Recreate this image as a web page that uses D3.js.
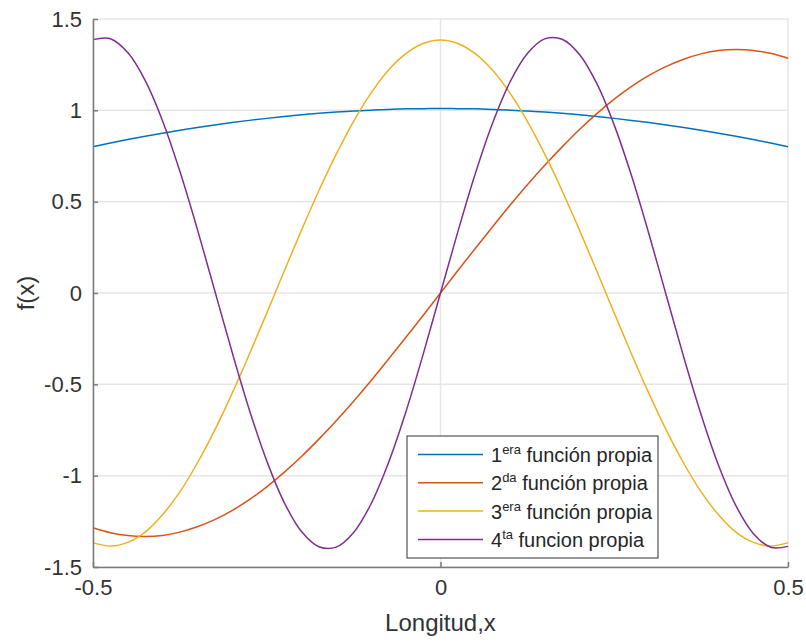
<!DOCTYPE html>
<html>
<head>
<meta charset="utf-8">
<script src="https://cdn.jsdelivr.net/npm/d3@7"></script>
<style>
  body { margin: 0; background: #fff; }
  text { font-family: "Liberation Sans", Arial, Helvetica, sans-serif; }
</style>
</head>
<body>
<div id="chart"></div>
<script>
// sample positions along the beam
var xVals = [-0.5, -0.475, -0.45, -0.425, -0.4, -0.375, -0.35, -0.325, -0.3, -0.275,
  -0.25, -0.225, -0.2, -0.175, -0.15, -0.125, -0.1, -0.075, -0.05, -0.025,
  0, 0.025, 0.05, 0.075, 0.1, 0.125, 0.15, 0.175, 0.2, 0.225,
  0.25, 0.275, 0.3, 0.325, 0.35, 0.375, 0.4, 0.425, 0.45, 0.475, 0.5];

// values
var f1 = [0.801, 0.821, 0.840, 0.858, 0.875, 0.891, 0.906, 0.920, 0.933, 0.945,
  0.956, 0.966, 0.976, 0.984, 0.991, 0.997, 1.001, 1.005, 1.008, 1.009,
  1.010, 1.009, 1.008, 1.005, 1.001, 0.997, 0.991, 0.984, 0.976, 0.966,
  0.956, 0.945, 0.933, 0.920, 0.906, 0.891, 0.875, 0.858, 0.840, 0.821, 0.801];
var f2 = [-1.285, -1.312, -1.328, -1.333, -1.327, -1.309, -1.280, -1.241, -1.191, -1.131,
  -1.061, -0.982, -0.895, -0.800, -0.699, -0.592, -0.480, -0.363, -0.244, -0.123,
  0, 0.123, 0.244, 0.363, 0.480, 0.592, 0.699, 0.800, 0.895, 0.982,
  1.061, 1.131, 1.191, 1.241, 1.280, 1.309, 1.327, 1.333, 1.328, 1.312, 1.285];
var f3 = [-1.368, -1.385, -1.365, -1.309, -1.214, -1.089, -0.932, -0.752, -0.551, -0.335,
  -0.110, 0.119, 0.344, 0.560, 0.760, 0.940, 1.094, 1.219, 1.310, 1.366,
  1.385, 1.366, 1.310, 1.219, 1.094, 0.940, 0.760, 0.560, 0.344, 0.119,
  -0.110, -0.335, -0.551, -0.752, -0.932, -1.089, -1.214, -1.309, -1.365, -1.385, -1.368];
var f4 = [1.387, 1.392, 1.316, 1.164, 0.943, 0.666, 0.351, 0.015, -0.322, -0.640,
  -0.919, -1.146, -1.306, -1.389, -1.391, -1.311, -1.155, -0.931, -0.653, -0.336,
  0, 0.336, 0.653, 0.931, 1.155, 1.311, 1.391, 1.389, 1.306, 1.146,
  0.919, 0.640, 0.322, -0.015, -0.351, -0.666, -0.943, -1.164, -1.316, -1.392, -1.387];

var xTicks = [-0.5, 0, 0.5];
var xTickLabels = ["-0.5", "0", "0.5"];
var yTicks = [-1.5, -1, -0.5, 0, 0.5, 1, 1.5];
var yTickLabels = ["-1.5", "-1", "-0.5", "0", "0.5", "1", "1.5"];

var legendNum = ["1", "2", "3", "4"];
var legendSup = ["era", "da", "era", "ta"];
var legendRest = [" función propia", " función propia", " función propia", " funcion propia"];

var colors = ["#0072BD", "#D95319", "#EDB120", "#7E2F8E"];
var series = [f1, f2, f3, f4];

var width = 806, height = 643;
var margin = {top: 19, right: 18, bottom: 76, left: 93};
var w = width - margin.left - margin.right;
var h = height - margin.top - margin.bottom;

var svg = d3.select("#chart").append("svg")
  .attr("width", width)
  .attr("height", height);

var g = svg.append("g")
  .attr("transform", "translate(" + margin.left + "," + margin.top + ")");

var x = d3.scaleLinear().domain([-0.5, 0.5]).range([0, w]);
var y = d3.scaleLinear().domain([-1.5, 1.5]).range([h, 0]);

// grid
g.append("g").attr("class", "grid")
  .selectAll("line.gy").data(yTicks).enter().append("line")
  .attr("x1", 0).attr("x2", w)
  .attr("y1", function(d) { return y(d); }).attr("y2", function(d) { return y(d); })
  .attr("stroke", "#e6e6e6").attr("stroke-width", 1.5);
g.append("g").attr("class", "grid")
  .selectAll("line.gx").data(xTicks).enter().append("line")
  .attr("y1", 0).attr("y2", h)
  .attr("x1", function(d) { return x(d); }).attr("x2", function(d) { return x(d); })
  .attr("stroke", "#e6e6e6").attr("stroke-width", 1.5);

// curves
var line = d3.line()
  .x(function(d, i) { return x(xVals[i]); })
  .y(function(d) { return y(d); })
  .curve(d3.curveCatmullRom);

series.forEach(function(s, i) {
  g.append("path")
    .datum(s)
    .attr("fill", "none")
    .attr("stroke", colors[i])
    .attr("stroke-width", 1.5)
    .attr("d", line);
});

// axes
var xAxis = d3.axisBottom(x).tickValues(xTicks)
  .tickFormat(function(d, i) { return xTickLabels[i]; })
  .tickSizeInner(-5).tickSizeOuter(0).tickPadding(12);
var yAxis = d3.axisLeft(y).tickValues(yTicks)
  .tickFormat(function(d, i) { return yTickLabels[i]; })
  .tickSizeInner(-5).tickSizeOuter(0).tickPadding(11);

var gx = g.append("g").attr("transform", "translate(0," + h + ")").call(xAxis);
var gy = g.append("g").call(yAxis);

[gx, gy].forEach(function(a) {
  a.select(".domain").attr("stroke", "#7a7a7a").attr("stroke-width", 1.5);
  a.selectAll(".tick line").attr("stroke", "#7a7a7a").attr("stroke-width", 1.5);
  a.selectAll(".tick text")
    .attr("fill", "#333")
    .style("font-size", "22px")
    .style("font-family", "'Liberation Sans', Arial, sans-serif");
});

// axis labels
svg.append("text")
  .attr("x", margin.left + x(0))
  .attr("y", 631)
  .attr("text-anchor", "middle")
  .attr("fill", "#333")
  .style("font-size", "24px")
  .text("Longitud,x");

svg.append("text")
  .attr("transform", "translate(34," + (margin.top + y(0)) + ") rotate(-90)")
  .attr("text-anchor", "middle")
  .attr("fill", "#333")
  .style("font-size", "24px")
  .text("f(x)");

// legend
var legX = 407, legY = 436, legW = 251, legH = 122;
var legend = svg.append("g");
legend.append("rect")
  .attr("x", legX).attr("y", legY)
  .attr("width", legW).attr("height", legH)
  .attr("fill", "#fff")
  .attr("stroke", "#333")
  .attr("stroke-width", 1);

var rowH = 28.3;
var rows = legend.selectAll(".legrow")
  .data(colors)
  .enter().append("g")
  .attr("class", "legrow")
  .attr("transform", function(d, i) {
    return "translate(" + legX + "," + (legY + 18.5 + i * rowH) + ")";
  });

rows.append("line")
  .attr("x1", 11).attr("x2", 76)
  .attr("y1", 0).attr("y2", 0)
  .attr("stroke", function(d) { return d; })
  .attr("stroke-width", 1.5);

var txt = rows.append("text")
  .attr("x", 84).attr("y", 7.5)
  .attr("fill", "#262626")
  .style("font-size", "20px");
txt.append("tspan").text(function(d, i) { return legendNum[i]; });
txt.append("tspan")
  .attr("dy", -8)
  .style("font-size", "13px")
  .text(function(d, i) { return legendSup[i]; });
txt.append("tspan")
  .attr("dy", 8)
  .text(function(d, i) { return legendRest[i]; });
</script>
</body>
</html>
